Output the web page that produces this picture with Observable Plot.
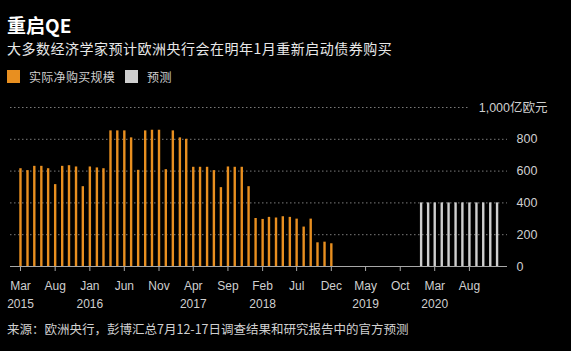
<!DOCTYPE html>
<html><head><meta charset="utf-8">
<script src="https://cdn.jsdelivr.net/npm/d3@7"></script>
<script src="https://cdn.jsdelivr.net/npm/@observablehq/plot@0.6"></script>
<style>
html,body{margin:0;padding:0;background:#000;}
body{width:571px;height:351px;overflow:hidden;position:relative;font-family:"Liberation Sans","Noto Sans CJK SC",sans-serif;color:#fff;}
#title{position:absolute;left:7px;top:15px;font-size:19px;line-height:20px;font-weight:bold;color:#fff;font-family:"Noto Sans CJK SC","Liberation Sans",sans-serif;}
#subtitle{position:absolute;left:7px;top:40px;font-size:14px;line-height:16px;letter-spacing:0.5px;color:#e8e8e8;font-family:"Noto Sans CJK SC",sans-serif;}
#legend{position:absolute;left:7px;top:70px;font-size:12px;line-height:13px;color:#cfcfcf;font-family:"Noto Sans CJK SC",sans-serif;display:flex;align-items:center;letter-spacing:0.3px;}
.sw{display:inline-block;width:13px;height:13px;margin-right:9px;}
.item{display:flex;align-items:center;margin-right:10px;}
#chart{position:absolute;left:0;top:90px;}
#source{position:absolute;left:7px;top:321px;font-size:12.5px;line-height:15px;color:#d0d0d0;font-family:"Noto Sans CJK SC",sans-serif;}
</style></head>
<body>
<div id="title">重启QE</div>
<div id="subtitle">大多数经济学家预计欧洲央行会在明年1月重新启动债券购买</div>
<div id="legend"></div>
<div id="chart"></div>
<div id="source">来源：欧洲央行，彭博汇总7月12-17日调查结果和研究报告中的官方预测</div>
<script>
// Actual monthly net purchases (亿欧元), Mar 2015 – Dec 2018
const actualStart = "2015-03";
const actualValues = [
  615, 603, 630, 630, 615, 515, 630, 634, 626, 502,            // 2015 Mar–Dec
  626, 620, 615, 853, 853, 853, 809, 605, 853, 857, 857, 609,  // 2016
  853, 809, 800, 624, 624, 624, 603, 496, 626, 624, 624, 502,  // 2017
  302, 296, 309, 305, 313, 309, 298, 248, 298, 149, 153, 143   // 2018
];
// Forecast, Jan 2020 – Dec 2020
const forecastStart = "2020-01";
const forecastValues = [400, 400, 400, 400, 400, 400, 400, 400, 400, 400, 400, 400];

const seriesNames = ["实际净购买规模", "预测"];
const seriesColors = ["#e88f20", "#cfcfcf"];

const tickMonths = ["2015-03","2015-08","2016-01","2016-06","2016-11","2017-04","2017-09","2018-02","2018-07","2018-12","2019-05","2019-10","2020-03","2020-08"];
const tickLabels = ["Mar\n2015","Aug","Jan\n2016","Jun","Nov","Apr\n2017","Sep","Feb\n2018","Jul","Dec","May\n2019","Oct","Mar\n2020","Aug"];
const yTicks = [0, 200, 400, 600, 800];
const yTopLabel = "1,000亿欧元";

const parseMonth = s => new Date(s + "-01T00:00:00Z");
const toRows = (start, vals) => vals.map((v, i) => ({date: d3.utcMonth.offset(parseMonth(start), i), value: v}));
const actual = toRows(actualStart, actualValues);
const forecast = toRows(forecastStart, forecastValues);
const tickDates = tickMonths.map(parseMonth);
const labelOf = new Map(tickDates.map((d, i) => [+d, tickLabels[i]]));

// legend
const legend = document.getElementById("legend");
seriesNames.forEach((n, i) => {
  const it = document.createElement("div"); it.className = "item";
  const sw = document.createElement("span"); sw.className = "sw"; sw.style.background = seriesColors[i];
  const t = document.createElement("span"); t.textContent = n;
  it.appendChild(sw); it.appendChild(t); legend.appendChild(it);
});

const x0 = new Date(Date.UTC(2015, 0, 16)), x1 = new Date(Date.UTC(2021, 0, 16));

const chart = Plot.plot({
  width: 571, height: 220,
  marginLeft: 10, marginRight: 64, marginTop: 17, marginBottom: 44,
  style: {background: "transparent", color: "#cfcfcf", fontFamily: "'Liberation Sans', 'Noto Sans CJK SC', sans-serif", fontSize: "12px"},
  x: {type: "utc", domain: [x0, x1]},
  y: {domain: [0, 1000]},
  marks: [
    Plot.ruleY(yTicks.filter(d => d > 0), {stroke: "#7a7a7a", strokeDasharray: "1.5,2.5", strokeWidth: 1}),
    Plot.ruleY([1000], {x1: () => x0, x2: () => parseMonth("2020-08"), stroke: "#7a7a7a", strokeDasharray: "1.5,2.5", strokeWidth: 1}),
    Plot.ruleX(actual, {x: "date", y1: 0, y2: "value", stroke: seriesColors[0], strokeWidth: 2.4}),
    Plot.ruleX(forecast, {x: "date", y1: 0, y2: "value", stroke: seriesColors[1], strokeWidth: 2.4}),
    Plot.ruleY([0], {stroke: "#a8a8a8", strokeWidth: 1.2}),
    Plot.axisX({ticks: tickDates, tickFormat: d => labelOf.get(+d), tickSize: 5, tickPadding: 6, stroke: "#a8a8a8", fill: "#cfcfcf", fontSize: 12, lineHeight: 1.5, label: null}),
    Plot.axisY({anchor: "right", ticks: yTicks, tickSize: 0, tickPadding: 9, fill: "#cfcfcf", fontSize: 12.5, label: null, tickFormat: d => String(d)}),
    Plot.text([1000], {y: d => d, frameAnchor: "right", dx: 40, textAnchor: "end", text: () => yTopLabel, fill: "#cfcfcf", fontSize: 12.5})
  ]
});
document.getElementById("chart").appendChild(chart);
</script>
</body></html>
